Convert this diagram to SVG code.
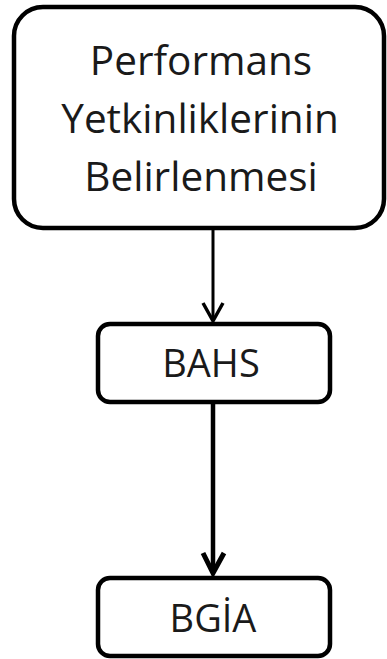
<svg xmlns="http://www.w3.org/2000/svg" width="387" height="659" viewBox="0 0 387 659">
<defs>
<style>
.box{fill:#fff;stroke:#000;stroke-width:4.5}
.t{font-family:"Open Sans","Liberation Sans",sans-serif;fill:#1a1a1a;text-anchor:middle}
.c{fill:none;stroke:#000;stroke-linecap:butt}
.ah{fill:none;stroke:#000;stroke-linejoin:miter}
</style>
</defs>
<g id="connectors">
<line class="c" x1="213" y1="229" x2="213" y2="321" stroke-width="3"/>
<polyline class="ah" points="203,303 213,321 223,303" stroke-width="3.5"/>
<line class="c" x1="213" y1="403" x2="213" y2="573" stroke-width="4.5"/>
<polyline class="ah" points="203,553 213,573 224,553" stroke-width="5"/>
</g>
<g id="node-performans">
<rect class="box" x="14" y="7" width="370" height="221" rx="29" ry="29"/>
<text class="t" font-size="40.5" x="201" y="75">Performans</text>
<text class="t" font-size="40.5" x="200" y="133">Yetkinliklerinin</text>
<text class="t" font-size="40.5" x="201" y="191">Belirlenmesi</text>
</g>
<g id="node-bahs">
<rect class="box" x="98" y="324" width="232" height="78" rx="12" ry="12"/>
<text class="t" font-size="38" x="211" y="377">BAHS</text>
</g>
<g id="node-bgia">
<rect class="box" x="98" y="578" width="232" height="78" rx="12" ry="12"/>
<text class="t" font-size="38" x="213" y="632">BGİA</text>
</g>
</svg>
